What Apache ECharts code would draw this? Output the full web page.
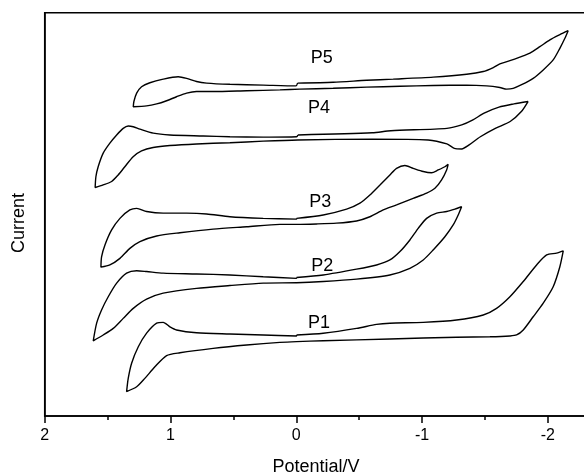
<!DOCTYPE html>
<html>
<head>
<meta charset="utf-8">
<script src="https://cdn.jsdelivr.net/npm/echarts@6/dist/echarts.min.js"></script>
<style>html,body{margin:0;padding:0;background:#fff}#c{width:584px;height:474px}</style>
</head>
<body>
<div id="c"></div>
<script>
// Potential (V) and Current (arbitrary units) for each CV loop
const p5V = [-0.01,-0.293,-0.559,-0.770,-1.088,-1.354,-1.486,-1.566,-1.618,-1.698,-1.777,-1.857,-1.936,-2.016,-2.095,-2.161,-2.135,-2.095,-2.042,-1.963,-1.883,-1.791,-1.724,-1.672,-1.618,-1.513,-1.354,-1.088,-0.824,-0.559,-0.293,-0.029,0.130,0.395,0.660,0.793,0.872,0.952,1.031,1.110,1.190,1.296,1.291,1.269,1.230,1.164,1.058,0.939,0.872,0.793,0.713,0.528,0.263,0.003,-0.01];
const p5I = [83.2,83.4,83.9,84.2,84.7,85.4,86.1,87.1,88.0,88.8,89.7,90.7,92.3,94.0,95.3,96.3,94.4,91.9,89.0,86.5,84.4,82.8,81.9,81.7,82.1,82.5,82.7,82.6,82.4,82.2,81.9,81.7,81.5,81.3,81.1,81.1,80.7,79.8,78.8,78.0,77.5,77.3,78.6,80.7,82.3,83.3,84.2,84.8,84.4,83.6,83.2,82.9,82.7,82.5,83.2];

const p4V = [-0.013,-0.604,-0.752,-1.197,-1.315,-1.404,-1.493,-1.611,-1.730,-1.842,-1.789,-1.700,-1.582,-1.463,-1.374,-1.315,-1.256,-1.197,-1.048,-0.604,-0.013,0.263,0.528,0.793,1.005,1.138,1.230,1.297,1.363,1.416,1.468,1.535,1.599,1.593,1.575,1.535,1.482,1.428,1.376,1.336,1.296,1.243,1.137,1.005,0.740,0.528,0.263,-0.002,-0.013];
const p4I = [70.25,70.8,71.3,71.9,72.75,74.0,75.7,77.2,78.0,78.6,76.1,73.6,71.9,69.8,67.75,66.75,66.9,68.0,69.0,69.2,69.0,68.7,68.3,68.0,67.6,67.1,66.25,64.8,62.3,60.25,58.6,57.75,57.1,59.8,62.3,65.7,68.2,70.25,71.9,72.5,72.3,71.7,70.7,70.25,70.0,69.8,69.7,69.8,70.25];

const p3V = [-0.002,-0.214,-0.400,-0.506,-0.585,-0.665,-0.744,-0.797,-0.863,-0.929,-1.009,-1.075,-1.128,-1.181,-1.207,-1.195,-1.155,-1.102,-1.036,-0.929,-0.797,-0.691,-0.585,-0.479,-0.320,-0.161,-0.002,0.130,0.395,0.661,0.925,1.110,1.243,1.323,1.402,1.482,1.553,1.548,1.521,1.468,1.402,1.323,1.269,1.190,1.058,0.872,0.713,0.528,0.263,-0.002,-0.002];
const p3I = [49.4,50.25,51.7,53.2,55.25,57.75,60.25,61.9,62.6,61.9,61.1,60.8,61.5,62.3,62.9,61.5,59.0,56.9,55.7,54.4,52.75,51.5,49.8,48.75,48.2,48.0,47.9,47.9,47.3,46.7,45.8,45.0,43.6,41.9,39.4,37.75,37.2,39.8,42.75,46.5,49.4,51.5,51.9,51.1,50.7,50.7,50.5,49.8,49.4,49.2,49.4];

const p2V = [-0.002,-0.214,-0.479,-0.638,-0.744,-0.824,-0.903,-0.969,-1.036,-1.116,-1.195,-1.261,-1.314,-1.287,-1.247,-1.181,-1.088,-1.009,-0.903,-0.744,-0.479,-0.214,-0.002,0.263,0.528,0.793,1.058,1.190,1.296,1.376,1.455,1.535,1.614,1.587,1.548,1.495,1.428,1.349,1.269,1.190,1.058,0.793,0.528,0.263,-0.002,-0.002];
const p2I = [34.6,35.25,36.7,37.75,39.0,41.1,44.0,46.9,49.4,50.7,51.1,51.7,52.3,50.25,47.75,44.8,41.5,39.0,36.9,35.25,34.2,33.6,33.3,33.2,32.6,31.9,30.7,29.2,26.9,24.4,21.9,20.25,18.8,23.2,26.5,29.8,33.2,35.7,36.3,36.1,35.7,35.5,35.25,34.8,34.4,34.6];

const p1V = [-0.002,-0.214,-0.479,-0.638,-0.744,-1.009,-1.274,-1.486,-1.592,-1.698,-1.804,-1.910,-1.990,-2.069,-2.122,-2.095,-2.042,-1.963,-1.883,-1.804,-1.751,-1.698,-1.539,-1.274,-0.744,-0.214,-0.002,0.130,0.395,0.661,0.925,1.031,1.124,1.204,1.269,1.349,1.336,1.309,1.256,1.190,1.110,1.058,1.005,0.952,0.793,0.528,0.263,-0.002,-0.002];
const p1I = [20.25,20.7,21.9,22.9,23.2,23.4,24.0,25.25,26.9,29.8,33.6,37.75,40.25,40.7,41.25,37.3,32.3,28.2,24.8,21.5,20.25,20.0,19.8,19.7,19.25,18.8,18.6,18.4,17.75,16.9,15.8,15.1,12.3,9.4,7.3,6.1,9.4,13.2,17.3,20.7,23.2,23.4,22.3,21.5,20.8,20.5,20.25,20.0,20.25];

const curveNames = ['P1','P2','P3','P4','P5'];
const labelV = [-0.181,-0.207,-0.19,-0.181,-0.203];
const labelI = [23.2,37.5,53.6,76.9,89.4];

const xTicks = {min:-3, max:2, interval:1};

const curves = [[p1V,p1I],[p2V,p2I],[p3V,p3I],[p4V,p4I],[p5V,p5I]];
const FONT = '"Liberation Sans", Arial, Helvetica, sans-serif';

const series = curves.map((c, k) => ({
  type: 'line',
  name: curveNames[k],
  data: c[0].map((v, i) => [v, c[1][i]]),
  showSymbol: false,
  smooth: 0.25,
  lineStyle: {color: '#000', width: 1.4},
  animation: false
}));
series.push({
  type: 'scatter',
  symbolSize: 0,
  itemStyle: {opacity: 1},
  data: curveNames.map((n, i) => ({name: n, value: [labelV[i], labelI[i]]})),
  label: {show: true, position: 'inside', formatter: '{b}', color: '#000', opacity: 1, textBorderWidth: 0, fontSize: 18, fontFamily: FONT},
  animation: false
});

const chart = echarts.init(document.getElementById('c'), null, {renderer: 'canvas'});
chart.setOption({
  backgroundColor: '#fff',
  animation: false,
  grid: {left: 44.7, top: 12.7, width: 629, height: 403.3, containLabel: false, outerBoundsMode: 'none', show: true, borderColor: '#000', borderWidth: 1.5, backgroundColor: 'transparent'},
  xAxis: {
    type: 'value', inverse: true, min: xTicks.min, max: xTicks.max, interval: xTicks.interval,
    axisLine: {show: true, onZero: false, lineStyle: {color: '#000', width: 1.5}},
    axisTick: {show: true, length: 7, lineStyle: {color: '#000', width: 1.5}},
    minorTick: {show: true, splitNumber: 2, length: 4, lineStyle: {color: '#000', width: 1.5}},
    axisLabel: {color: '#000', fontSize: 16, fontFamily: FONT, margin: 12},
    splitLine: {show: false}
  },
  yAxis: {
    type: 'value', min: 0, max: 100.8,
    axisLine: {show: true, onZero: false, lineStyle: {color: '#000', width: 1.5}},
    axisTick: {show: false}, axisLabel: {show: false}, splitLine: {show: false}
  },
  graphic: [
    {type: 'text', x: 316, y: 467, style: {text: 'Potential/V', fill: '#000', font: '18px ' + FONT, align: 'center', verticalAlign: 'middle'}},
    {type: 'text', x: 18.6, y: 223, rotation: Math.PI / 2, style: {text: 'Current', fill: '#000', font: '18px ' + FONT, align: 'center', verticalAlign: 'middle'}}
  ],
  series: series
});
</script>
</body>
</html>
